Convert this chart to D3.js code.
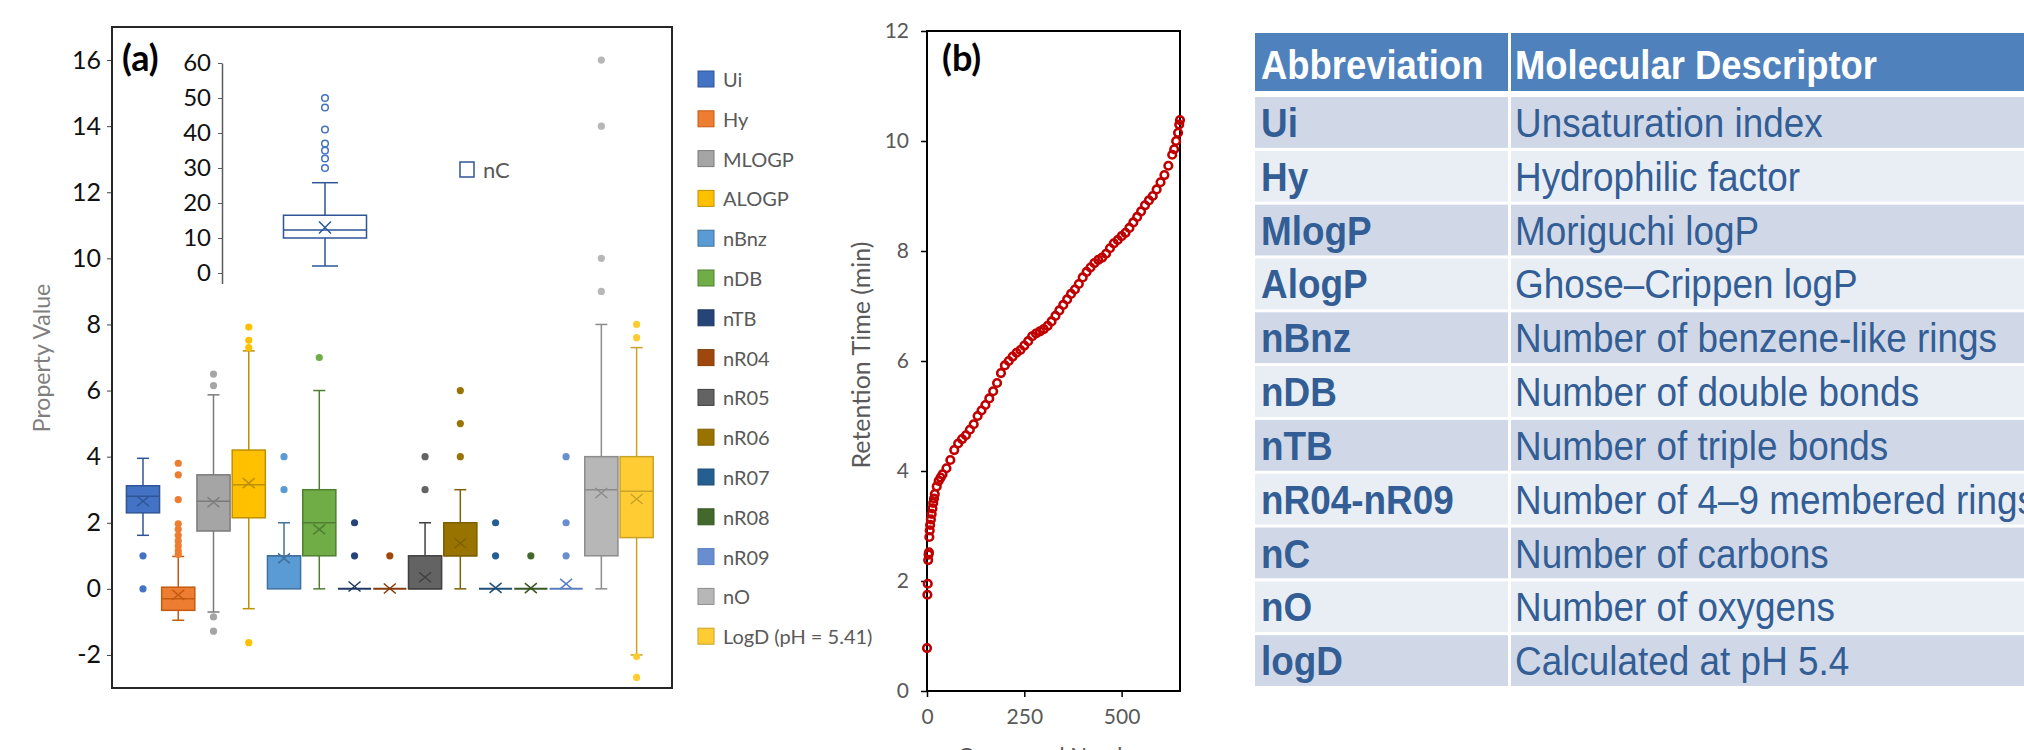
<!DOCTYPE html>
<html>
<head>
<meta charset="utf-8">
<script src="https://cdnjs.cloudflare.com/ajax/libs/d3/7.8.5/d3.min.js"></script>
<style>
  body { margin: 0; background: #fff; }
  svg text { font-family: Lato, "Open Sans", sans-serif; }
  svg text.tbl { font-family: "Liberation Sans", Arial, sans-serif; }
</style>
</head>
<body>
<svg id="chart" width="2024" height="750"></svg>
<script>
// ---- panel (a): box plots of descriptors ----
const categories = ["Ui", "Hy", "MLOGP", "ALOGP", "nBnz", "nDB", "nTB", "nR04", "nR05", "nR06", "nR07", "nR08", "nR09", "nO", "LogD (pH = 5.41)"];
const fillColors = ["#4472C4", "#ED7D31", "#A5A5A5", "#FFC000", "#5B9BD5", "#70AD47", "#264478", "#9E480E", "#636363", "#997300", "#255E91", "#43682B", "#698ED0", "#B7B7B7", "#FFCD33"];
const lineColors = ["#2F5597", "#C55A11", "#7B7B7B", "#BF9000", "#41719C", "#507E32", "#1F3864", "#843C0C", "#404040", "#7F6000", "#1F4E79", "#375623", "#5A7EC0", "#8C8C8C", "#C9A227"];
const lowWhisker = [1.62, -0.95, -0.7, -0.6, 0, 0, 0, 0, 0, 0, 0, 0, 0, 0, -2.0];
const q1 = [2.3, -0.65, 1.75, 2.15, 0, 1, 0, 0, 0, 1, 0, 0, 0, 1, 1.55];
const medians = [2.8, -0.3, 2.65, 3.15, 1, 2, 0, 0, 0, 1, 0, 0, 0, 3, 2.95];
const q3 = [3.12, 0.05, 3.45, 4.2, 1, 3, 0, 0, 1, 2, 0, 0, 0, 4, 4.0];
const highWhisker = [3.95, 0.98, 5.87, 7.2, 2, 6, 0, 0, 2, 3, 0, 0, 0, 8, 7.3];
const means = [2.65, -0.18, 2.62, 3.2, 0.92, 1.8, 0.07, 0.01, 0.35, 1.38, 0.03, 0.02, 0.15, 2.9, 2.72];
const outliers = [
  [1, 0],
  [3.8, 3.45, 2.7, 1.97, 1.8, 1.62, 1.45, 1.3, 1.15, 1.05],
  [6.5, 6.15, -0.85, -1.28],
  [7.92, 7.52, 7.3, -1.63],
  [3, 4],
  [7],
  [1, 2],
  [1],
  [3, 4],
  [4, 5, 6],
  [1, 2],
  [1],
  [1, 2, 4],
  [9, 10, 14, 16],
  [8.0, 7.6, -2.05, -2.68]
];
const ticksA = [-2, 0, 2, 4, 6, 8, 10, 12, 14, 16];

// inset: nC
const nCStats = { low: 2, q1: 10, median: 12.3, q3: 16.5, high: 25.8, mean: 13 };
const nCOutliers = [50, 47.3, 41, 37, 35, 32.7, 30];
const ticksInset = [0, 10, 20, 30, 40, 50, 60];

// ---- panel (b): retention time vs compound number ----
const compoundIdx = [0, 1, 2, 3, 4, 5, 6, 7, 8, 10, 12, 14, 16, 18, 20, 25, 30, 35, 40, 50, 60, 70, 80, 90, 100,
  110, 120, 130, 140, 150, 160, 170, 180, 190, 200, 210, 220, 230, 240, 250, 260, 270, 280, 290, 300,
  310, 320, 330, 340, 350, 360, 370, 380, 390, 400, 410, 420, 430, 440, 450, 460, 470, 480, 490, 500,
  510, 520, 530, 540, 550, 560, 570, 580, 590, 600, 610, 620, 630, 635, 640, 645, 648, 650];
const retentionTime = [0.78, 1.75, 1.95, 2.38, 2.48, 2.52, 2.8, 2.92, 3.02, 3.12, 3.22, 3.32, 3.42, 3.5, 3.58, 3.72, 3.82, 3.88, 3.94, 4.05, 4.2, 4.38, 4.5, 4.58, 4.65,
  4.75, 4.85, 5.0, 5.1, 5.2, 5.32, 5.45, 5.6, 5.78, 5.92, 6.0, 6.08, 6.15, 6.2, 6.28, 6.36, 6.45, 6.5, 6.54, 6.58,
  6.64, 6.72, 6.82, 6.92, 7.02, 7.12, 7.22, 7.3, 7.4, 7.52, 7.62, 7.7, 7.78, 7.84, 7.88, 7.95, 8.05, 8.14, 8.2, 8.27,
  8.33, 8.42, 8.52, 8.62, 8.72, 8.83, 8.92, 9.0, 9.12, 9.25, 9.38, 9.55, 9.75, 9.85, 10.0, 10.15, 10.3, 10.38];

// ---- table ----
const abbreviations = ["Ui", "Hy", "MlogP", "AlogP", "nBnz", "nDB", "nTB", "nR04-nR09", "nC", "nO", "logD"];
const descriptors = ["Unsaturation index", "Hydrophilic factor", "Moriguchi logP", "Ghose\u2013Crippen logP", "Number of benzene-like rings",
  "Number of double bonds", "Number of triple bonds", "Number of 4\u20139 membered rings", "Number of carbons", "Number of oxygens", "Calculated at pH 5.4"];

const svg = d3.select("#chart");
svg.append("rect").attr("width", 2024).attr("height", 750).attr("fill", "#fff");

// ================= panel (a) =================
const frameA = { left: 112, top: 27, right: 672, bottom: 688 };
const yA = d3.scaleLinear().domain([-3, 17]).range([frameA.bottom, frameA.top]);
const xA = d3.scaleBand().domain(categories).range([124.3, 655.3]).padding(0.06);

const gA = svg.append("g");

const axisA = gA.append("g")
  .attr("transform", "translate(" + frameA.left + ",0)")
  .call(d3.axisLeft(yA).tickValues(ticksA).tickSize(5).tickPadding(6).tickSizeOuter(0));
axisA.select(".domain").remove();
axisA.selectAll("line").attr("stroke", "#404040");
axisA.selectAll("text").style("font-size", "25px").attr("fill", "#111").text(d => d < 0 ? "-" + Math.abs(d) : d);

gA.append("text")
  .attr("transform", "translate(50," + 358 + ") rotate(-90)")
  .attr("text-anchor", "middle")
  .style("font-size", "23px")
  .attr("fill", "#7F7F7F")
  .text("Property Value");

const boxes = gA.selectAll("g.box")
  .data(categories)
  .enter()
  .append("g")
  .attr("class", "box");

const bw = xA.bandwidth();
const capW = 12;

boxes.each(function (d, i) {
  const g = d3.select(this);
  const cx = xA(d) + bw / 2;
  // whiskers
  if (highWhisker[i] > q3[i]) {
    g.append("line").attr("x1", cx).attr("x2", cx).attr("y1", yA(q3[i])).attr("y2", yA(highWhisker[i]))
      .attr("stroke", lineColors[i]).attr("stroke-width", 1.5);
    g.append("line").attr("x1", cx - capW / 2).attr("x2", cx + capW / 2).attr("y1", yA(highWhisker[i])).attr("y2", yA(highWhisker[i]))
      .attr("stroke", lineColors[i]).attr("stroke-width", 1.5);
  }
  if (lowWhisker[i] < q1[i]) {
    g.append("line").attr("x1", cx).attr("x2", cx).attr("y1", yA(q1[i])).attr("y2", yA(lowWhisker[i]))
      .attr("stroke", lineColors[i]).attr("stroke-width", 1.5);
    g.append("line").attr("x1", cx - capW / 2).attr("x2", cx + capW / 2).attr("y1", yA(lowWhisker[i])).attr("y2", yA(lowWhisker[i]))
      .attr("stroke", lineColors[i]).attr("stroke-width", 1.5);
  }
  // box
  if (q3[i] > q1[i]) {
    g.append("rect")
      .attr("x", xA(d)).attr("y", yA(q3[i]))
      .attr("width", bw).attr("height", yA(q1[i]) - yA(q3[i]))
      .attr("fill", fillColors[i]).attr("stroke", lineColors[i]).attr("stroke-width", 1.5);
  }
  // median
  g.append("line").attr("x1", xA(d)).attr("x2", xA(d) + bw).attr("y1", yA(medians[i])).attr("y2", yA(medians[i]))
    .attr("stroke", lineColors[i]).attr("stroke-width", q3[i] > q1[i] ? 1.5 : 2);
  // mean marker
  const my = yA(means[i]);
  g.append("path")
    .attr("d", "M" + (cx - 6) + "," + (my - 5) + "L" + (cx + 6) + "," + (my + 5) + "M" + (cx - 6) + "," + (my + 5) + "L" + (cx + 6) + "," + (my - 5))
    .attr("stroke", lineColors[i]).attr("stroke-width", 1.5).attr("fill", "none");
  // outliers
  g.selectAll("circle")
    .data(outliers[i])
    .enter()
    .append("circle")
    .attr("cx", cx)
    .attr("cy", v => yA(v))
    .attr("r", 3.6)
    .attr("fill", fillColors[i]);
});

// inset nC
const insetX = 222;
const yI = d3.scaleLinear().domain([-3, 60]).range([283.5, 63]);
const axisI = gA.append("g")
  .attr("transform", "translate(" + insetX + ",0)")
  .call(d3.axisLeft(yI).tickValues(ticksInset).tickSize(4).tickPadding(7).tickSizeOuter(0));
axisI.select(".domain").attr("stroke", "#595959").attr("stroke-width", 1.5);
axisI.selectAll("line").attr("stroke", "#595959");
axisI.selectAll("text").style("font-size", "24px").attr("fill", "#111");

const nCx = 325, nCw = 83, nCcol = "#2F5597";
const gI = gA.append("g");
gI.append("line").attr("x1", nCx).attr("x2", nCx).attr("y1", yI(nCStats.q3)).attr("y2", yI(nCStats.high)).attr("stroke", nCcol).attr("stroke-width", 1.5);
gI.append("line").attr("x1", nCx - 13).attr("x2", nCx + 13).attr("y1", yI(nCStats.high)).attr("y2", yI(nCStats.high)).attr("stroke", nCcol).attr("stroke-width", 1.5);
gI.append("line").attr("x1", nCx).attr("x2", nCx).attr("y1", yI(nCStats.q1)).attr("y2", yI(nCStats.low)).attr("stroke", nCcol).attr("stroke-width", 1.5);
gI.append("line").attr("x1", nCx - 13).attr("x2", nCx + 13).attr("y1", yI(nCStats.low)).attr("y2", yI(nCStats.low)).attr("stroke", nCcol).attr("stroke-width", 1.5);
gI.append("rect").attr("x", nCx - nCw / 2).attr("y", yI(nCStats.q3)).attr("width", nCw).attr("height", yI(nCStats.q1) - yI(nCStats.q3))
  .attr("fill", "#fff").attr("stroke", nCcol).attr("stroke-width", 1.5);
gI.append("line").attr("x1", nCx - nCw / 2).attr("x2", nCx + nCw / 2).attr("y1", yI(nCStats.median)).attr("y2", yI(nCStats.median)).attr("stroke", nCcol).attr("stroke-width", 1.5);
const nCm = yI(nCStats.mean);
gI.append("path")
  .attr("d", "M" + (nCx - 6) + "," + (nCm - 6) + "L" + (nCx + 6) + "," + (nCm + 6) + "M" + (nCx - 6) + "," + (nCm + 6) + "L" + (nCx + 6) + "," + (nCm - 6))
  .attr("stroke", nCcol).attr("stroke-width", 1.5);
gI.selectAll("circle")
  .data(nCOutliers)
  .enter()
  .append("circle")
  .attr("cx", nCx)
  .attr("cy", v => yI(v))
  .attr("r", 3.3)
  .attr("fill", "#fff")
  .attr("stroke", "#4472C4")
  .attr("stroke-width", 1.5);

// nC legend
gA.append("rect").attr("x", 460).attr("y", 162).attr("width", 14).attr("height", 15)
  .attr("fill", "#fff").attr("stroke", nCcol).attr("stroke-width", 1.5);
gA.append("text").attr("x", 483).attr("y", 178).style("font-size", "22px").attr("fill", "#595959").text("nC");

// frame (a)
gA.append("rect")
  .attr("x", frameA.left).attr("y", frameA.top)
  .attr("width", frameA.right - frameA.left).attr("height", frameA.bottom - frameA.top)
  .attr("fill", "none").attr("stroke", "#262626").attr("stroke-width", 2);

gA.append("text").attr("x", 122).attr("y", 71)
  .style("font-size", "36px").style("font-weight", "bold").attr("fill", "#000").text("(a)");

// legend (a)
const legA = gA.selectAll("g.leg")
  .data(categories)
  .enter()
  .append("g")
  .attr("class", "leg")
  .attr("transform", (d, i) => "translate(698," + (79 + i * 39.8) + ")");
legA.append("rect").attr("x", 0).attr("y", -8).attr("width", 16).attr("height", 16)
  .attr("fill", (d, i) => fillColors[i]).attr("stroke", (d, i) => lineColors[i]).attr("stroke-width", 1);
legA.append("text").attr("x", 25).attr("y", 8).style("font-size", "20px").attr("fill", "#595959").text(d => d);

// ================= panel (b) =================
const frameB = { left: 927, top: 31, right: 1180, bottom: 691 };
const xB = d3.scaleLinear().domain([0, 650]).range([frameB.left, frameB.right]);
const yB = d3.scaleLinear().domain([0, 12]).range([frameB.bottom, frameB.top]);
const gB = svg.append("g");

const axB = gB.append("g").attr("transform", "translate(" + frameB.left + ",0)")
  .call(d3.axisLeft(yB).tickValues([0, 2, 4, 6, 8, 10, 12]).tickSize(6).tickPadding(12).tickSizeOuter(0));
axB.select(".domain").remove();
axB.selectAll("line").attr("stroke", "#000").attr("stroke-width", 1.5);
axB.selectAll("text").style("font-size", "21px").attr("fill", "#595959");

const axBx = gB.append("g").attr("transform", "translate(0," + frameB.bottom + ")")
  .call(d3.axisBottom(xB).tickValues([0, 250, 500]).tickSize(6).tickPadding(12).tickSizeOuter(0));
axBx.select(".domain").remove();
axBx.selectAll("line").attr("stroke", "#000").attr("stroke-width", 1.5);
axBx.selectAll("text").style("font-size", "21px").attr("fill", "#595959");

gB.append("rect")
  .attr("x", frameB.left).attr("y", frameB.top)
  .attr("width", frameB.right - frameB.left).attr("height", frameB.bottom - frameB.top)
  .attr("fill", "none").attr("stroke", "#000").attr("stroke-width", 2);

gB.selectAll("circle")
  .data(compoundIdx)
  .enter()
  .append("circle")
  .attr("cx", d => xB(d))
  .attr("cy", (d, i) => yB(retentionTime[i]))
  .attr("r", 3.8)
  .attr("fill", "none")
  .attr("stroke", "#C00000")
  .attr("stroke-width", 2.6);

gB.append("text")
  .attr("transform", "translate(870,355) rotate(-90)")
  .attr("text-anchor", "middle")
  .style("font-size", "25px")
  .attr("fill", "#595959")
  .text("Retention Time (min)");

gB.append("text")
  .attr("x", (frameB.left + frameB.right) / 2).attr("y", 763)
  .attr("text-anchor", "middle")
  .style("font-size", "22px")
  .attr("fill", "#595959")
  .text("Compound Number");

gB.append("text").attr("x", 942).attr("y", 71)
  .style("font-size", "36px").style("font-weight", "bold").attr("fill", "#000").text("(b)");

// ================= table =================
const tableX = 1255, colSplit = 1508, tableRight = 2100;
const gT = svg.append("g");

// condensed look: larger font squeezed horizontally
function tableText(sel, x, y, size, squeeze) {
  return sel.append("text").attr("class", "tbl")
    .attr("transform", "translate(" + x + "," + y + ") scale(" + squeeze + ",1)")
    .style("font-size", size + "px");
}

gT.append("rect").attr("x", tableX).attr("y", 33).attr("width", colSplit - tableX).attr("height", 58).attr("fill", "#4F81BD");
gT.append("rect").attr("x", colSplit + 3).attr("y", 33).attr("width", tableRight - colSplit).attr("height", 58).attr("fill", "#4F81BD");
tableText(gT, 1261, 79, 40, 0.91).style("font-weight", "bold").attr("fill", "#fff").text("Abbreviation");
tableText(gT, 1515, 79, 40, 0.91).style("font-weight", "bold").attr("fill", "#fff").text("Molecular Descriptor");

const rowY = d3.scaleBand().domain(d3.range(abbreviations.length)).range([97, 686]).paddingInner(0.055).paddingOuter(0);

const rows = gT.selectAll("g.row")
  .data(abbreviations)
  .enter()
  .append("g")
  .attr("class", "row")
  .attr("transform", (d, i) => "translate(0," + rowY(i) + ")");
rows.append("rect").attr("x", tableX).attr("y", 0).attr("width", colSplit - tableX).attr("height", rowY.bandwidth())
  .attr("fill", (d, i) => i % 2 === 0 ? "#D0D8E8" : "#E9EDF4");
rows.append("rect").attr("x", colSplit + 3).attr("y", 0).attr("width", tableRight - colSplit).attr("height", rowY.bandwidth())
  .attr("fill", (d, i) => i % 2 === 0 ? "#D0D8E8" : "#E9EDF4");
rows.each(function (d, i) {
  const r = d3.select(this);
  tableText(r, 1261, 40, 41, 0.9).style("font-weight", "bold").attr("fill", "#335E95").text(d);
  tableText(r, 1515, 40, 41, 0.9).attr("fill", "#335E95").text(descriptors[i]);
});
</script>
</body>
</html>
